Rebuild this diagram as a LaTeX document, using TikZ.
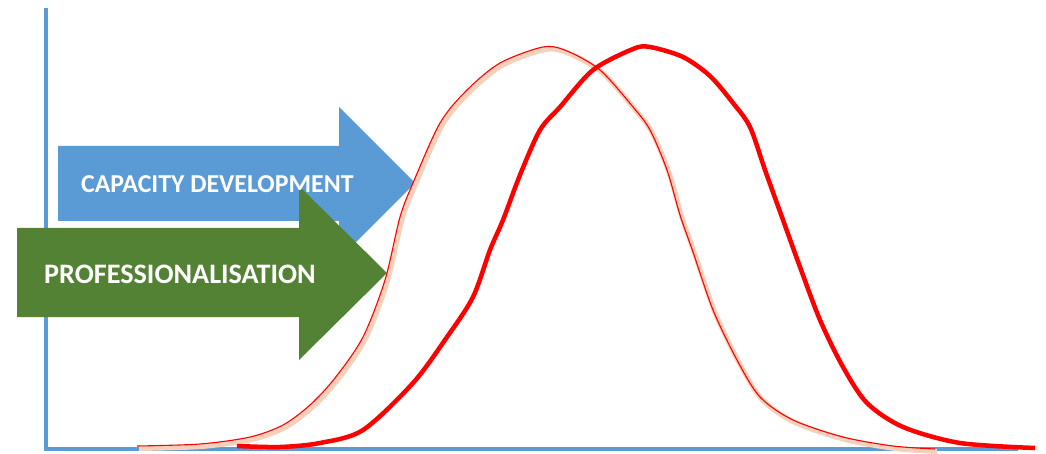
\documentclass[tikz,border=0pt]{standalone}
\usepackage{fontspec}
\setmainfont{Carlito}
\definecolor{axisblue}{HTML}{5B9BD5}
\definecolor{capblue}{HTML}{5B9BD5}
\definecolor{profgreen}{HTML}{548235}
\definecolor{peach}{HTML}{F5D0BA}
\begin{document}
\begin{tikzpicture}[x=1pt, y=-1pt,
    axis/.style = {draw=axisblue, line width=3.5pt},
    arrowlabel/.style = {text=white, font=\bfseries\fontsize{25.8}{26}\selectfont, anchor=west, inner sep=0pt},
    thincurve/.style = {draw=red, line width=1.1pt},
    underlay/.style = {draw=peach, line width=5pt},
    thickcurve/.style = {draw=red, line width=4.5pt}]

    \useasboundingbox (0,0) rectangle (1046,454);

    % axes
    \coordinate (top) at (46,8);
    \coordinate (origin) at (46,449);
    \coordinate (right) at (1018,449);
    \draw[axis] (top) -- (origin) -- (right);

    % arrows
    \fill[capblue] (58,146) -- (339,146) -- (339,107) -- (415,183) -- (339,259) -- (339,221) -- (58,221) -- cycle;
    \fill[profgreen] (17,228) -- (299,228) -- (299,186) -- (387,273) -- (299,360) -- (299,317) -- (17,317) -- cycle;
    \node[arrowlabel] (capdev) at (81,184.5) {CAPACITY DEVELOPMENT};
    \node[arrowlabel, font=\bfseries\fontsize{28.2}{28}\selectfont] (prof) at (44,274.5) {PROFESSIONALISATION};

    % curves
    \def\thinpoints{(137,446) (200,444) (250,437) (283,425) (310,405) (335,378) (363,337) (385,280) (400,217) (413,183) (440,123) (467,90) (500,63) (543,47) (567,51) (600,70) (633,107) (650,130) (667,170) (680,215) (693,252) (713,310) (737,360) (760,397) (793,420) (843,437) (893,446) (935,449)}
    \draw[underlay, shift={(2,2.5)}] plot[smooth, tension=0.5] coordinates {\thinpoints};
    \draw[thincurve] plot[smooth, tension=0.5] coordinates {\thinpoints};
    \draw[thickcurve] plot[smooth, tension=0.5] coordinates {(237,446) (280,447) (320,443) (363,430) (413,383) (447,337) (473,297) (490,250) (503,220) (520,175) (540,130) (560,107) (593,70) (633,49) (650,47) (683,57) (710,76) (733,103) (750,127) (765,170) (783,220) (800,267) (820,320) (843,367) (867,403) (903,427) (960,443) (1035,448)};

\end{tikzpicture}
\end{document}
